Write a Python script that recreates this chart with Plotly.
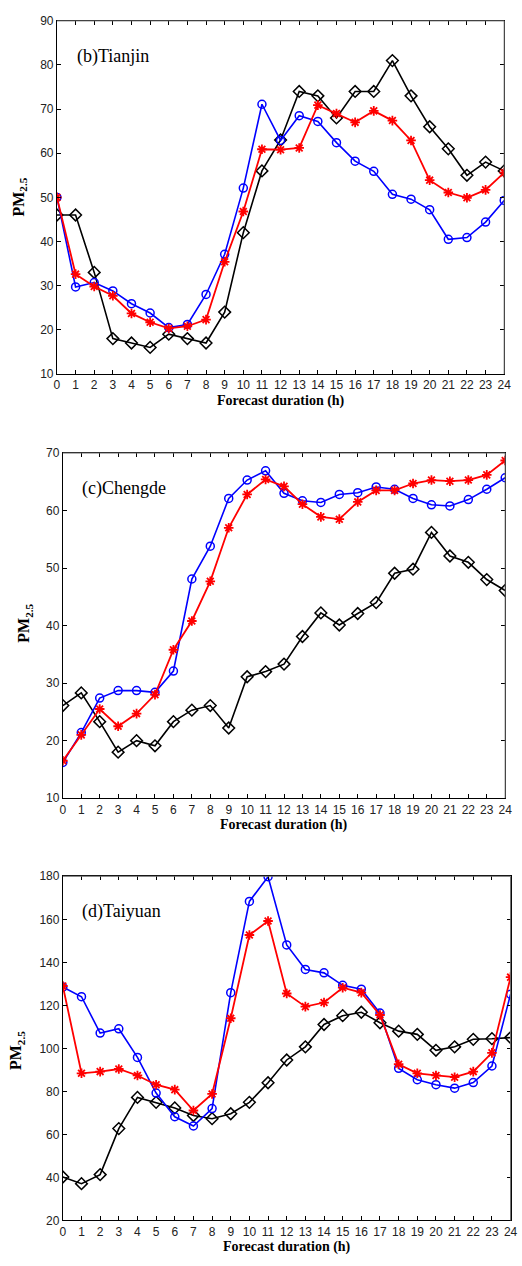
import plotly.graph_objects as go

hours = list(range(25))

# (b) Tianjin
tj_obs = [46, 46, 33, 18, 17, 16, 19, 18, 17, 24, 42, 56, 63, 74, 73, 68, 74, 74, 81, 73, 66, 61, 55, 58, 56]
tj_red = [50, 32.6, 29.8, 27.7, 23.7, 21.7, 20.3, 20.8, 22.3, 35.4, 46.8, 60.9, 60.8, 61.2, 70.9, 69.0, 67.0, 69.6, 67.4, 62.9, 53.9, 51.1, 49.9, 51.7, 55.6]
tj_blue = [50, 29.7, 30.7, 28.8, 25.9, 23.8, 20.5, 21.2, 28.0, 37.1, 52.1, 71.1, 62.9, 68.5, 67.2, 62.4, 58.2, 55.9, 50.7, 49.6, 47.2, 40.5, 40.9, 44.4, 49.3]

# (c) Chengde
cd_obs = [26.1, 28.3, 23.3, 18, 20, 19.1, 23.3, 25.3, 26.1, 22.2, 31.1, 32.0, 33.3, 38.1, 42.2, 40.1, 42.1, 44.0, 49.1, 49.8, 56.2, 52.1, 51.0, 48.0, 46.1]
cd_red = [16.5, 21, 25.5, 22.5, 24.7, 28, 35.8, 40.8, 47.7, 57.0, 62.8, 65.4, 64.2, 61.1, 58.9, 58.5, 61.5, 63.5, 63.5, 64.7, 65.3, 65.1, 65.3, 66.2, 68.7]
cd_blue = [16.2, 21.4, 27.4, 28.7, 28.7, 28.4, 32.1, 48.1, 53.8, 62.1, 65.3, 66.9, 63.0, 61.7, 61.4, 62.8, 63.1, 64.1, 63.7, 62.1, 61.0, 60.8, 61.9, 63.7, 65.7]

# (d) Taiyuan
ty_obs = [40.2, 37.1, 41.3, 62.7, 77.2, 74.9, 72.3, 68.8, 67.3, 69.6, 74.9, 84.0, 94.6, 100.7, 111.1, 115.2, 116.8, 111.9, 108.0, 106.5, 99.1, 100.7, 104.2, 104.5, 105.0]
ty_red = [129.0, 88.4, 89.2, 90.4, 87.4, 83.1, 80.8, 71.1, 78.8, 114.0, 152.7, 159.2, 125.5, 119.4, 121.3, 128.2, 125.9, 115.5, 92.6, 88.4, 87.4, 86.6, 89.2, 97.9, 133.1]
ty_blue = [128.5, 124.0, 107.1, 109.1, 95.8, 79.2, 68.2, 63.9, 72.0, 125.9, 168.3, 179.8, 148.1, 136.7, 135.1, 129.3, 127.5, 116.4, 90.7, 85.4, 83.1, 81.5, 84.1, 91.8, 125.2]

panel_titles = ["(b)Tianjin", "(c)Chengde", "(d)Taiyuan"]
y_ranges = [(10, 90, 10), (10, 70, 10), (20, 180, 20)]
x_title = "Forecast duration (h)"
y_title = "PM<sub>2.5</sub>"

W, H = 522, 1266
# pixel boxes: left, right, top, bottom
boxes = [(55, 511, 14, 371), (61, 512, 451, 800), (61, 517.5, 879, 1227)]

panels = [(tj_obs, tj_red, tj_blue), (cd_obs, cd_red, cd_blue), (ty_obs, ty_red, ty_blue)]

fig = go.Figure()
tick_font = dict(family="Liberation Sans, Arial", size=12, color="#222")
serif = "Liberation Serif, Times New Roman, serif"

shapes = []
annotations = []
for i, ((obs, red, blue), box, yr, title) in enumerate(zip(panels, boxes, y_ranges, panel_titles)):
    n = "" if i == 0 else str(i + 1)
    xa, ya = "x" + n, "y" + n
    l, r, t, b = box
    fig.add_trace(go.Scatter(x=hours, y=obs, mode="lines+markers", xaxis=xa, yaxis=ya,
                             line=dict(color="black", width=1.6),
                             marker=dict(symbol="diamond-open", size=9, color="black", line=dict(width=1.5)),
                             showlegend=False))
    fig.add_trace(go.Scatter(x=hours, y=blue, mode="lines+markers", xaxis=xa, yaxis=ya,
                             line=dict(color="#0000ff", width=1.6),
                             marker=dict(symbol="circle-open", size=8, color="#0000ff", line=dict(width=1.5)),
                             showlegend=False))
    fig.add_trace(go.Scatter(x=hours, y=red, mode="lines+markers", xaxis=xa, yaxis=ya,
                             line=dict(color="#ff0000", width=1.8),
                             marker=dict(symbol="asterisk-open", size=8, color="#ff0000", line=dict(width=1.8, color="#ff0000")),
                             showlegend=False))
    axcommon = dict(showgrid=False, zeroline=False, showline=True, linecolor="black", linewidth=1,
                    mirror="allticks", ticks="inside", ticklen=4, tickcolor="black", tickwidth=1,
                    tickfont=tick_font)
    fig.layout["xaxis" + n] = dict(domain=[l / W, r / W], range=[0, 24], tickmode="linear", tick0=0, dtick=1,
                                   anchor=ya, **axcommon)
    fig.layout["yaxis" + n] = dict(domain=[1 - b / H, 1 - t / H], range=[yr[0], yr[1]], tickmode="linear",
                                   tick0=yr[0], dtick=yr[2], anchor=xa, **axcommon)
    # grey top/right frame edges
    shapes.append(dict(type="line", xref="paper", yref="paper", x0=l / W, x1=r / W, y0=1 - t / H, y1=1 - t / H,
                       line=dict(color="#666", width=1), layer="above"))
    shapes.append(dict(type="line", xref="paper", yref="paper", x0=r / W, x1=r / W, y0=1 - t / H, y1=1 - b / H,
                       line=dict(color="#666", width=1), layer="above"))
    annotations.append(dict(text=title, xref="paper", yref="paper", x=(l + 18) / W, y=1 - (t + 36) / H,
                            xanchor="left", yanchor="middle", showarrow=False,
                            font=dict(family=serif, size=18, color="black")))
    annotations.append(dict(text="<b>" + x_title + "</b>", xref="paper", yref="paper", x=(l + r) / 2 / W,
                            y=1 - (b + 27) / H, xanchor="center", yanchor="middle", showarrow=False,
                            font=dict(family=serif, size=14, color="black")))

ytitle_pos = [(17, 192), (22, 623), (14, 1055)]
for (px, py) in ytitle_pos:
    annotations.append(dict(text="<b>" + y_title + "</b>", xref="paper", yref="paper", x=px / W, y=1 - py / H,
                            xanchor="center", yanchor="middle", textangle=-90, showarrow=False,
                            font=dict(family=serif, size=16, color="black")))

fig.update_layout(width=W, height=H, margin=dict(l=0, r=0, t=0, b=0), plot_bgcolor="white",
                  paper_bgcolor="white", shapes=shapes, annotations=annotations)
fig.write_html("out.html")
